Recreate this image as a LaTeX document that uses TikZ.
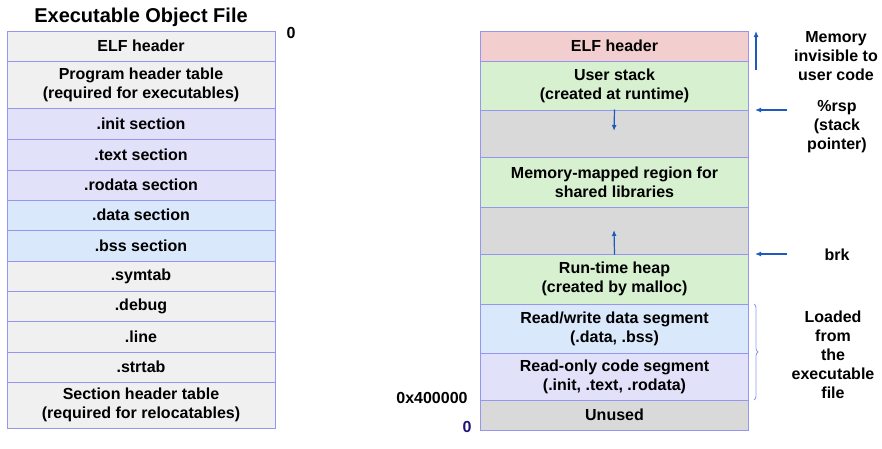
\documentclass[tikz,border=0pt]{standalone}
\usepackage{fontspec}
\setmainfont{Liberation Sans}
\usetikzlibrary{arrows.meta,decorations.pathreplacing}
\definecolor{bord}{RGB}{150,150,240}
\definecolor{gcell}{RGB}{240,240,240}
\definecolor{lav}{RGB}{225,225,249}
\definecolor{lblue}{RGB}{218,232,252}
\definecolor{pink}{RGB}{242,206,206}
\definecolor{lgreen}{RGB}{214,240,208}
\definecolor{dgray}{RGB}{217,217,217}
\definecolor{arr}{RGB}{30,90,190}
\definecolor{navy}{RGB}{30,20,120}
\tikzset{
  cell/.style={draw=bord, line width=1pt, minimum width=268pt, align=center,
    font=\bfseries\fontsize{16}{19}\selectfont, inner sep=0pt},
  lbl/.style={align=center, font=\bfseries\fontsize{16}{19}\selectfont, inner sep=0pt},
  blarrow/.style={draw=arr, line width=1.2pt, -{Latex[length=6pt,width=5pt]}},
}
\begin{document}
\begin{tikzpicture}[x=1pt,y=-1pt]
\useasboundingbox (0,0) rectangle (882,448);
% left column
\node[lbl, font=\bfseries\fontsize{20}{22}\selectfont] (title) at (141,17) {Executable Object File};
\node[lbl] (zero1) at (291,33) {0};
\node[cell, fill=gcell, minimum height=30pt] (l1) at (141,46) {ELF header};
\node[cell, fill=gcell, minimum height=47pt] (l2) at (141,84.5) {Program header table\\(required for executables)};
\node[cell, fill=lav, minimum height=31pt] (l3) at (141,123.5) {.init section};
\node[cell, fill=lav, minimum height=31pt] (l4) at (141,154.5) {.text section};
\node[cell, fill=lav, minimum height=30pt] (l5) at (141,185) {.rodata section};
\node[cell, fill=lblue, minimum height=30pt] (l6) at (141,215) {.data section};
\node[cell, fill=lblue, minimum height=31pt] (l7) at (141,245.5) {.bss section};
\node[cell, fill=gcell, minimum height=30pt] (l8) at (141,276) {.symtab};
\node[cell, fill=gcell, minimum height=30pt] (l9) at (141,306) {.debug};
\node[cell, fill=gcell, minimum height=31pt] (l10) at (141,336.5) {.line};
\node[cell, fill=gcell, minimum height=30pt] (l11) at (141,367) {.strtab};
\node[cell, fill=gcell, minimum height=46pt] (l12) at (141,405) {Section header table\\(required for relocatables)};
% right column
\node[cell, fill=pink, minimum height=30pt] (r1) at (614.5,46) {ELF header};
\node[cell, fill=lgreen, minimum height=49pt] (r2) at (614.5,85.5) {User stack\\(created at runtime)};
\node[cell, fill=dgray, minimum height=47pt] (r3) at (614.5,133.5) {};
\node[cell, fill=lgreen, minimum height=50pt] (r4) at (614.5,182) {Memory-mapped region for\\shared libraries};
\node[cell, fill=dgray, minimum height=47pt] (r5) at (614.5,230.5) {};
\node[cell, fill=lgreen, minimum height=50pt] (r6) at (614.5,279) {Run-time heap\\(created by malloc)};
\node[cell, fill=lblue, minimum height=49pt] (r7) at (614.5,328.5) {Read/write data segment\\(.data, .bss)};
\node[cell, fill=lav, minimum height=47pt] (r8) at (614.5,376.5) {Read-only code segment\\(.init, .text, .rodata)};
\node[cell, fill=dgray, minimum height=30pt] (r9) at (614.5,415) {Unused};
% growth arrows
\coordinate (sdown) at (614,131);
\coordinate (hup) at (614,230);
\draw[blarrow] (r3.north) -- (sdown);
\draw[blarrow] (r5.south) -- (hup);
% side arrows and labels
\coordinate (inv1) at (756,70);
\coordinate (inv2) at (756,31);
\draw[blarrow] (inv1) -- (inv2);
\node[lbl] (mem) at (836,56) {Memory\\invisible to\\user code};
\coordinate (rsp1) at (787,110);
\coordinate (rsp2) at (755,110);
\draw[blarrow] (rsp1) -- (rsp2);
\node[lbl] (rsp) at (837,127) {\%rsp\\(stack\\pointer)};
\coordinate (brk1) at (787,254);
\coordinate (brk2) at (755,254);
\draw[blarrow] (brk1) -- (brk2);
\node[lbl] (brk) at (837,255) {brk};
\coordinate (b1) at (754,304);
\coordinate (b2) at (754,400);
\draw[bord, line width=0.8pt, decorate, decoration={brace, amplitude=4pt}] (b1) -- (b2);
\node[lbl] (load) at (833,355) {Loaded\\from\\the\\executable\\file};
\node[lbl] (addr) at (432,398) {0x400000};
\node[lbl, text=navy] (zero2) at (467,427) {0};
\end{tikzpicture}
\end{document}
